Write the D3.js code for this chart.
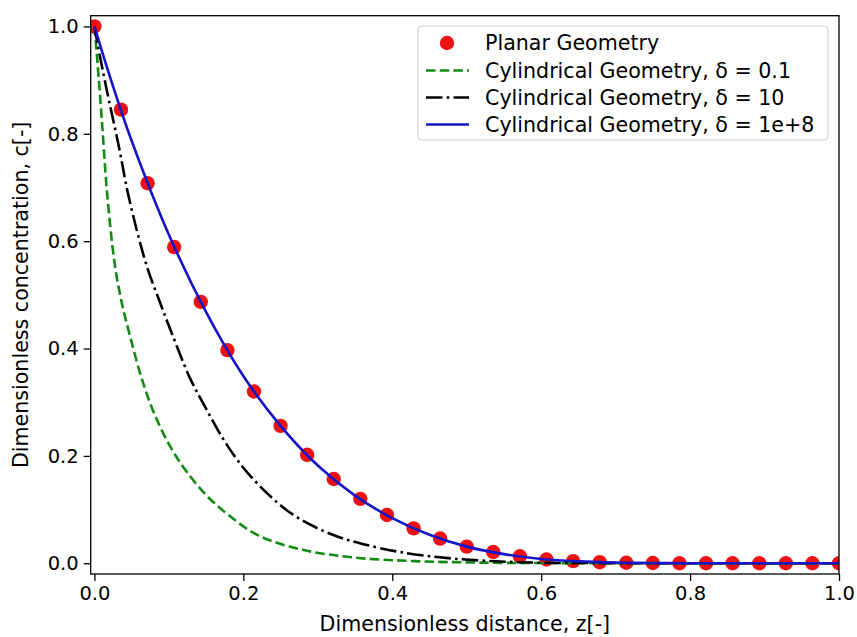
<!DOCTYPE html>
<html>
<head>
<meta charset="utf-8">
<script src="https://cdn.jsdelivr.net/npm/d3@7"></script>
<style>
  html, body { margin: 0; padding: 0; background: #fff; }
  svg { display: block; font-family: "DejaVu Sans", sans-serif; }
</style>
</head>
<body>
<svg id="chart" width="857" height="637"></svg>
<script>
// ---------------- data ----------------
const planarZ = [0, 0.0357, 0.0714, 0.1071, 0.1429, 0.1786, 0.2143, 0.25, 0.2857, 0.3214,
  0.3571, 0.3929, 0.4286, 0.4643, 0.5, 0.5357, 0.5714, 0.6071, 0.6429, 0.6786,
  0.7143, 0.75, 0.7857, 0.8214, 0.8571, 0.8929, 0.9286, 0.9643, 1.0];
const planarC = [1.0, 0.845, 0.708, 0.589, 0.487, 0.397, 0.320, 0.256, 0.202, 0.157,
  0.120, 0.090, 0.065, 0.046, 0.031, 0.021, 0.013, 0.007, 0.004, 0.002,
  0.001, 0.0005, 0, 0, 0, 0, 0, 0, 0];

const greenZ = [0, 0.004, 0.01, 0.017, 0.027, 0.036, 0.048, 0.064, 0.08, 0.1, 0.12, 0.15,
  0.18, 0.22, 0.28, 0.35, 0.43, 0.52, 0.65, 0.8, 1.0];
const greenC = [1.0, 0.935, 0.825, 0.69, 0.56, 0.49, 0.422, 0.342, 0.28, 0.222, 0.178, 0.127,
  0.09, 0.052, 0.025, 0.0105, 0.004, 0.0012, 0.0002, 0, 0];

const blackZ = [0, 0.005, 0.015, 0.033, 0.046, 0.07, 0.087, 0.104, 0.129, 0.15, 0.175, 0.2,
  0.23, 0.263, 0.3, 0.33, 0.36, 0.41, 0.48, 0.57, 0.7, 0.85, 1.0];
const blackC = [1.0, 0.962, 0.892, 0.775, 0.683, 0.555, 0.49, 0.428, 0.343, 0.288, 0.227, 0.178,
  0.133, 0.094, 0.065, 0.048, 0.036, 0.021, 0.009, 0.002, 0.0002, 0, 0];

const blueZ = [0, 0.02, 0.05, 0.1, 0.15, 0.2, 0.25, 0.3, 0.35, 0.4, 0.45, 0.5, 0.55, 0.6,
  0.65, 0.7, 0.75, 0.8, 0.9, 1.0];
const blueC = [1.0, 0.91, 0.787, 0.612, 0.468, 0.349, 0.256, 0.182, 0.126, 0.084, 0.053,
  0.031, 0.017, 0.008, 0.0035, 0.0013, 0.0004, 0.0001, 0, 0];

const xTicks = [0.0, 0.2, 0.4, 0.6, 0.8, 1.0];
const yTicks = [0.0, 0.2, 0.4, 0.6, 0.8, 1.0];
const legendLabels = ["Planar Geometry", "Cylindrical Geometry, \u03b4 = 0.1",
  "Cylindrical Geometry, \u03b4 = 10", "Cylindrical Geometry, \u03b4 = 1e+8"];
const xLabel = "Dimensionless distance, z[-]";
const yLabel = "Dimensionless concentration, c[-]";

// ---------------- layout ----------------
const svg = d3.select("#chart");
const L = 90.7, R = 839, T = 15.7, B = 574;
const FS_TICK = 19.5, FS = 20.6;

const x = d3.scaleLinear().domain([-0.005, 1.0]).range([L, R]);
const y = d3.scaleLinear().domain([-0.02, 1.02]).range([B, T]);

svg.append("defs").append("clipPath").attr("id", "clip")
  .append("rect").attr("x", L).attr("y", T).attr("width", R - L).attr("height", B - T);

const plot = svg.append("g").attr("clip-path", "url(#clip)");

const zip = (a, b) => a.map((v, i) => [v, b[i]]);
const line = d3.line().x(d => x(d[0])).y(d => y(d[1])).curve(d3.curveCatmullRom.alpha(0.5));

const colors = { red: "#ee1111", green: "#138a13", black: "#000000", blue: "#1414c8" };

// planar points
plot.selectAll("circle.pt").data(zip(planarZ, planarC)).enter().append("circle")
  .attr("class", "pt").attr("cx", d => x(d[0])).attr("cy", d => y(d[1]))
  .attr("r", 7.2).attr("fill", colors.red);

plot.append("path").datum(zip(greenZ, greenC)).attr("d", line)
  .attr("fill", "none").attr("stroke", colors.green).attr("stroke-width", 2.6)
  .attr("stroke-dasharray", "9.5,4.2");

plot.append("path").datum(zip(blackZ, blackC)).attr("d", line)
  .attr("fill", "none").attr("stroke", colors.black).attr("stroke-width", 2.6)
  .attr("stroke-dasharray", "16.5,4.2,2.6,4.2");

plot.append("path").datum(zip(blueZ, blueC)).attr("d", line)
  .attr("fill", "none").attr("stroke", colors.blue).attr("stroke-width", 2.6);

// axes
const xAxis = svg.append("g").attr("transform", `translate(0,${B})`)
  .call(d3.axisBottom(x).tickValues(xTicks).tickFormat(d3.format(".1f")).tickSize(7).tickPadding(5));
const yAxis = svg.append("g").attr("transform", `translate(${L},0)`)
  .call(d3.axisLeft(y).tickValues(yTicks).tickFormat(d3.format(".1f")).tickSize(7).tickPadding(5));
[xAxis, yAxis].forEach(g => {
  g.select(".domain").remove();
  g.selectAll(".tick line").attr("stroke", "#000").attr("stroke-width", 1.3);
  g.selectAll(".tick text").attr("font-size", FS_TICK).attr("fill", "#000")
    .attr("font-family", "DejaVu Sans, sans-serif");
});

// frame
svg.append("rect").attr("x", L).attr("y", T).attr("width", R - L).attr("height", B - T)
  .attr("fill", "none").attr("stroke", "#000").attr("stroke-width", 1.3);

// axis labels
svg.append("text").attr("x", (L + R) / 2).attr("y", 631).attr("text-anchor", "middle")
  .attr("font-size", FS).attr("fill", "#000").text(xLabel);
svg.append("text").attr("transform", `translate(28,${(T + B) / 2}) rotate(-90)`)
  .attr("text-anchor", "middle").attr("font-size", FS).attr("fill", "#000").text(yLabel);

// legend
const lg = svg.append("g");
const lx = 418, ly = 26, lw = 410, lh = 114;
lg.append("rect").attr("x", lx).attr("y", ly).attr("width", lw).attr("height", lh)
  .attr("rx", 4).attr("fill", "#fff").attr("fill-opacity", 0.85)
  .attr("stroke", "#d0d0d0").attr("stroke-width", 1.2);
const rowY = [43, 70.5, 97.5, 124.5];
const handles = [
  { type: "dot", color: colors.red },
  { type: "line", color: colors.green, dash: "9.5,4.2" },
  { type: "line", color: colors.black, dash: "16.5,4.2,2.6,4.2" },
  { type: "line", color: colors.blue, dash: null }
];
handles.forEach((h, i) => {
  const yy = rowY[i];
  if (h.type === "dot") {
    lg.append("circle").attr("cx", 447).attr("cy", yy).attr("r", 7.2).attr("fill", h.color);
  } else {
    const p = lg.append("line").attr("x1", 426).attr("x2", 469).attr("y1", yy).attr("y2", yy)
      .attr("stroke", h.color).attr("stroke-width", 2.6);
    if (h.dash) p.attr("stroke-dasharray", h.dash);
  }
  lg.append("text").attr("x", 485).attr("y", yy).attr("dy", "0.35em")
    .attr("font-size", FS).attr("fill", "#000").text(legendLabels[i]);
});
</script>
</body>
</html>
